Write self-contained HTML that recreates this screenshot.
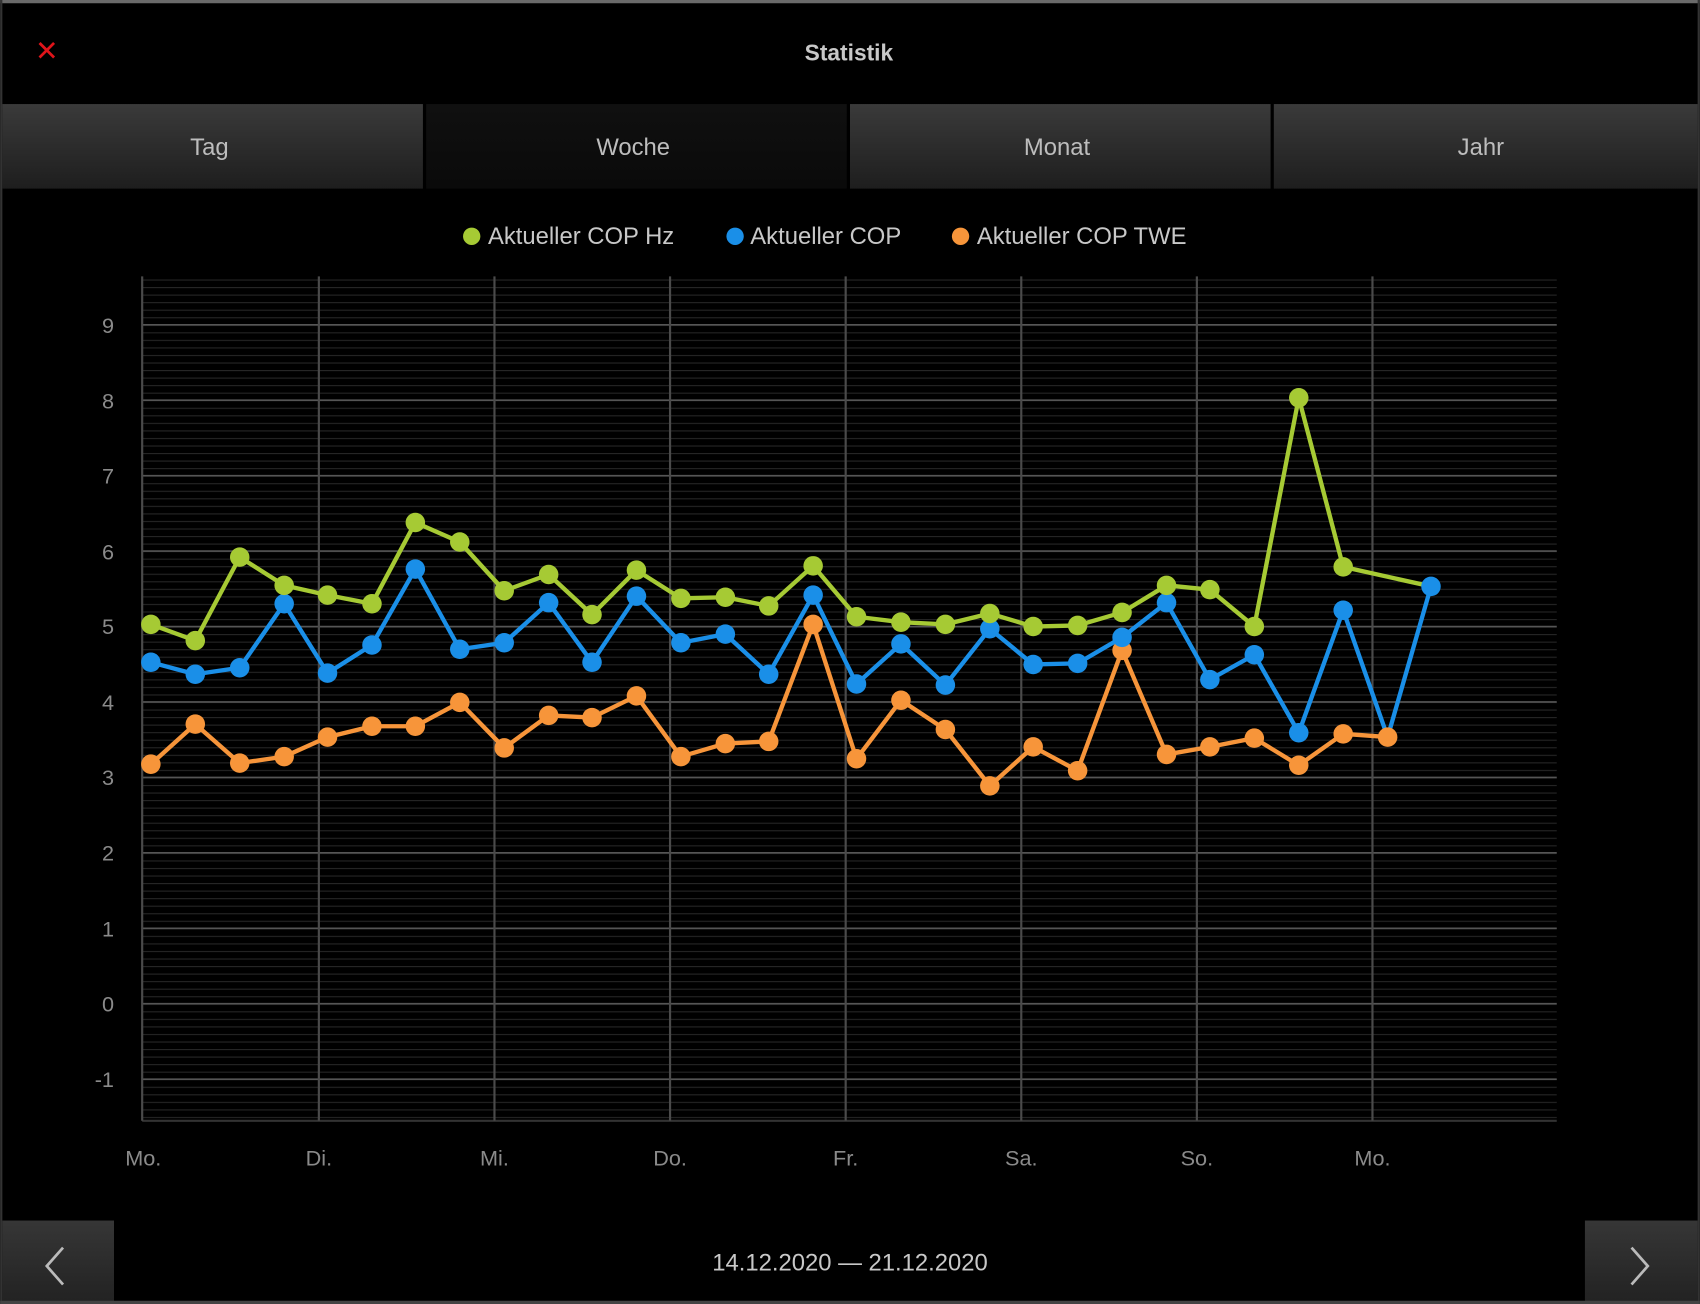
<!DOCTYPE html>
<html><head><meta charset="utf-8"><style>
html,body{margin:0;padding:0;background:#000;width:1700px;height:1304px;overflow:hidden}
svg{display:block}
text{font-family:"Liberation Sans","DejaVu Sans",sans-serif}
</style></head><body>
<svg width="1700" height="1304" viewBox="0 0 1568 1203" xmlns="http://www.w3.org/2000/svg">
<defs>
<linearGradient id="tab" x1="0" y1="0" x2="0" y2="1"><stop offset="0" stop-color="#3a3a3a"/><stop offset="1" stop-color="#1e1e1e"/></linearGradient>
<linearGradient id="tabSel" x1="0" y1="0" x2="0" y2="1"><stop offset="0" stop-color="#101010"/><stop offset="1" stop-color="#0a0a0a"/></linearGradient>
<linearGradient id="btn" x1="0" y1="0" x2="0" y2="1"><stop offset="0" stop-color="#363636"/><stop offset="1" stop-color="#222"/></linearGradient>
<pattern id="minor" x="0" y="926" width="10" height="6.96" patternUnits="userSpaceOnUse"><rect x="0" y="0" width="10" height="1" fill="#262626"/></pattern>
</defs>
<rect width="1568" height="1203" fill="#000"/>
<rect x="0" y="0" width="1568" height="3" fill="#6a6a6a"/>
<rect x="0" y="0" width="2" height="1203" fill="#333"/>
<rect x="1566" y="0" width="2" height="1203" fill="#333"/>
<text x="43" y="56" font-size="26" fill="#e0141a" text-anchor="middle">✕</text>
<text x="783" y="56" font-size="21" font-weight="bold" fill="#c8c8c8" text-anchor="middle">Statistik</text>
<!-- tabs -->
<rect x="2" y="96" width="388" height="78" fill="url(#tab)"/>
<rect x="393" y="96" width="388" height="78" fill="url(#tabSel)"/>
<rect x="784" y="96" width="388" height="78" fill="url(#tab)"/>
<rect x="1175" y="96" width="391" height="78" fill="url(#tab)"/>
<g font-size="22" fill="#bdbdbd" text-anchor="middle">
<text x="193" y="143">Tag</text><text x="584" y="143">Woche</text><text x="975" y="143">Monat</text><text x="1366" y="143">Jahr</text>
</g>
<!-- legend -->
<g font-size="22" fill="#c8c8c8">
<circle cx="435" cy="218" r="8" fill="#a6ca34"/><text x="450" y="225">Aktueller COP Hz</text>
<circle cx="678" cy="218" r="8" fill="#1a8fe8"/><text x="692" y="225">Aktueller COP</text>
<circle cx="886" cy="218" r="8" fill="#f7953a"/><text x="901" y="225">Aktueller COP TWE</text>
</g>
<!-- grid -->
<rect x="131" y="255" width="1305" height="779" fill="url(#minor)"/>
<g stroke="#555" stroke-width="1.5">
<line x1="131" x2="1436" y1="299.6" y2="299.6"/><line x1="131" x2="1436" y1="369.2" y2="369.2"/>
<line x1="131" x2="1436" y1="438.8" y2="438.8"/><line x1="131" x2="1436" y1="508.4" y2="508.4"/>
<line x1="131" x2="1436" y1="578" y2="578"/><line x1="131" x2="1436" y1="647.6" y2="647.6"/>
<line x1="131" x2="1436" y1="717.2" y2="717.2"/><line x1="131" x2="1436" y1="786.8" y2="786.8"/>
<line x1="131" x2="1436" y1="856.4" y2="856.4"/><line x1="131" x2="1436" y1="926" y2="926"/>
<line x1="131" x2="1436" y1="995.6" y2="995.6"/>
</g>
<line x1="131" x2="1436" y1="1034" y2="1034" stroke="#333" stroke-width="2"/>
<g stroke="#4a4a4a" stroke-width="2">
<line x1="131" x2="131" y1="255" y2="1034"/><line x1="294" x2="294" y1="255" y2="1034"/>
<line x1="456" x2="456" y1="255" y2="1034"/><line x1="618" x2="618" y1="255" y2="1034"/>
<line x1="780" x2="780" y1="255" y2="1034"/><line x1="942" x2="942" y1="255" y2="1034"/>
<line x1="1104" x2="1104" y1="255" y2="1034"/><line x1="1266" x2="1266" y1="255" y2="1034"/>
</g>
<g font-size="20" fill="#8a8a8a" text-anchor="end">
<text x="105" y="307">9</text><text x="105" y="377">8</text><text x="105" y="446">7</text>
<text x="105" y="516">6</text><text x="105" y="585">5</text><text x="105" y="655">4</text>
<text x="105" y="724">3</text><text x="105" y="794">2</text><text x="105" y="864">1</text>
<text x="105" y="933">0</text><text x="105" y="1003">-1</text>
</g>
<g font-size="20" fill="#8a8a8a" text-anchor="middle">
<text x="132" y="1075">Mo.</text><text x="294" y="1075">Di.</text><text x="456" y="1075">Mi.</text>
<text x="618" y="1075">Do.</text><text x="780" y="1075">Fr.</text><text x="942" y="1075">Sa.</text>
<text x="1104" y="1075">So.</text><text x="1266" y="1075">Mo.</text>
</g>
<!-- orange -->
<g fill="#f7953a">
<polyline fill="none" stroke="#f7953a" stroke-width="4" stroke-linejoin="round" points="139,705 180,668 221,704 262,698 302,680 343,670 383,670 424,648 465,690 506,660 546,662 587,642 628,698 669,686 709,684 750,576 790,700 831,646 872,673 913,725 953,689 994,711 1035,600 1076,696 1116,689 1157,681 1198,706 1239,677 1280,680"/>
<circle cx="139" cy="705" r="9"/><circle cx="180" cy="668" r="9"/><circle cx="221" cy="704" r="9"/><circle cx="262" cy="698" r="9"/><circle cx="302" cy="680" r="9"/><circle cx="343" cy="670" r="9"/><circle cx="383" cy="670" r="9"/><circle cx="424" cy="648" r="9"/><circle cx="465" cy="690" r="9"/><circle cx="506" cy="660" r="9"/><circle cx="546" cy="662" r="9"/><circle cx="587" cy="642" r="9"/><circle cx="628" cy="698" r="9"/><circle cx="669" cy="686" r="9"/><circle cx="709" cy="684" r="9"/><circle cx="750" cy="576" r="9"/><circle cx="790" cy="700" r="9"/><circle cx="831" cy="646" r="9"/><circle cx="872" cy="673" r="9"/><circle cx="913" cy="725" r="9"/><circle cx="953" cy="689" r="9"/><circle cx="994" cy="711" r="9"/><circle cx="1035" cy="600" r="9"/><circle cx="1076" cy="696" r="9"/><circle cx="1116" cy="689" r="9"/><circle cx="1157" cy="681" r="9"/><circle cx="1198" cy="706" r="9"/><circle cx="1239" cy="677" r="9"/>
</g>
<!-- blue -->
<g fill="#1a8fe8">
<polyline fill="none" stroke="#1a8fe8" stroke-width="4" stroke-linejoin="round" points="139,611 180,622 221,616 262,557 302,621 343,595 383,525 424,599 465,593 506,556 546,611 587,550 628,593 669,585 709,622 750,549 790,631 831,594 872,632 913,580 953,613 994,612 1035,588 1076,556 1116,627 1157,604 1198,676 1239,563 1280,680 1320,541"/>
<circle cx="139" cy="611" r="9"/><circle cx="180" cy="622" r="9"/><circle cx="221" cy="616" r="9"/><circle cx="262" cy="557" r="9"/><circle cx="302" cy="621" r="9"/><circle cx="343" cy="595" r="9"/><circle cx="383" cy="525" r="9"/><circle cx="424" cy="599" r="9"/><circle cx="465" cy="593" r="9"/><circle cx="506" cy="556" r="9"/><circle cx="546" cy="611" r="9"/><circle cx="587" cy="550" r="9"/><circle cx="628" cy="593" r="9"/><circle cx="669" cy="585" r="9"/><circle cx="709" cy="622" r="9"/><circle cx="750" cy="549" r="9"/><circle cx="790" cy="631" r="9"/><circle cx="831" cy="594" r="9"/><circle cx="872" cy="632" r="9"/><circle cx="913" cy="580" r="9"/><circle cx="953" cy="613" r="9"/><circle cx="994" cy="612" r="9"/><circle cx="1035" cy="588" r="9"/><circle cx="1076" cy="556" r="9"/><circle cx="1116" cy="627" r="9"/><circle cx="1157" cy="604" r="9"/><circle cx="1198" cy="676" r="9"/><circle cx="1239" cy="563" r="9"/>
</g>
<circle cx="1280" cy="680" r="9" fill="#f7953a"/>
<!-- green -->
<g fill="#a6ca34">
<polyline fill="none" stroke="#a6ca34" stroke-width="4" stroke-linejoin="round" points="139,576 180,591 221,514 262,540 302,549 343,557 383,482 424,500 465,545 506,530 546,567 587,526 628,552 669,551 709,559 750,522 790,569 831,574 872,576 913,566 953,578 994,577 1035,565 1076,540 1116,544 1157,578 1198,367 1239,523 1320,541"/>
<circle cx="139" cy="576" r="9"/><circle cx="180" cy="591" r="9"/><circle cx="221" cy="514" r="9"/><circle cx="262" cy="540" r="9"/><circle cx="302" cy="549" r="9"/><circle cx="343" cy="557" r="9"/><circle cx="383" cy="482" r="9"/><circle cx="424" cy="500" r="9"/><circle cx="465" cy="545" r="9"/><circle cx="506" cy="530" r="9"/><circle cx="546" cy="567" r="9"/><circle cx="587" cy="526" r="9"/><circle cx="628" cy="552" r="9"/><circle cx="669" cy="551" r="9"/><circle cx="709" cy="559" r="9"/><circle cx="750" cy="522" r="9"/><circle cx="790" cy="569" r="9"/><circle cx="831" cy="574" r="9"/><circle cx="872" cy="576" r="9"/><circle cx="913" cy="566" r="9"/><circle cx="953" cy="578" r="9"/><circle cx="994" cy="577" r="9"/><circle cx="1035" cy="565" r="9"/><circle cx="1076" cy="540" r="9"/><circle cx="1116" cy="544" r="9"/><circle cx="1157" cy="578" r="9"/><circle cx="1198" cy="367" r="9"/><circle cx="1239" cy="523" r="9"/>
</g>
<circle cx="1320" cy="541" r="9" fill="#1a8fe8"/>
<!-- bottom -->
<rect x="2" y="1126" width="103" height="77" fill="url(#btn)"/>
<rect x="1462" y="1126" width="104" height="77" fill="url(#btn)"/>
<polyline points="58,1151 43,1168 58,1185" fill="none" stroke="#bbb" stroke-width="2.5"/>
<polyline points="1505,1151 1520,1168 1505,1185" fill="none" stroke="#bbb" stroke-width="2.5"/>
<rect x="0" y="1200" width="1568" height="3" fill="#444"/>
<text x="784" y="1172" font-size="22" fill="#c8c8c8" text-anchor="middle">14.12.2020 — 21.12.2020</text>
</svg>
</body></html>
